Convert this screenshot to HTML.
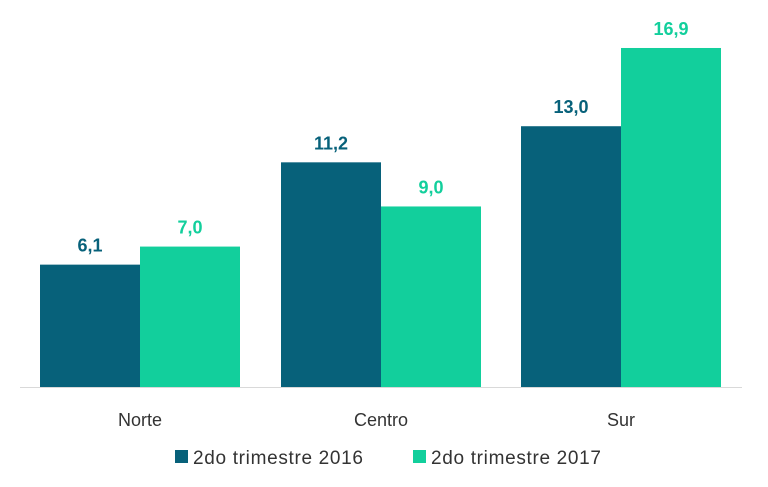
<!DOCTYPE html>
<html><head><meta charset="utf-8"><style>
body{margin:0;background:#fff;font-family:"Liberation Sans",sans-serif;}
</style></head><body>
<svg id="chart" width="768" height="482" xmlns="http://www.w3.org/2000/svg"></svg>
<script>
const categories=["Norte","Centro","Sur"];
const series2016=[6.1,11.2,13.0];
const series2017=[7.0,9.0,16.9];
const seriesNames=["2do trimestre 2016","2do trimestre 2017"];
const colors=["#07617A","#12CF9C"];
const NS="http://www.w3.org/2000/svg";
const svg=document.getElementById('chart');
const base=387, scale=20.06, groupX=[40,281,521], bw=100;
const y=v=>base-v*scale;
function mk(t,a){const e=document.createElementNS(NS,t);for(const k in a)e.setAttribute(k,a[k]);svg.appendChild(e);return e;}
const ax=mk('line',{x1:20,x2:742,y1:base+0.5,y2:base+0.5,stroke:'#d9d9d9','stroke-width':1});


[series2016,series2017].forEach((s,si)=>{
 s.forEach((v,i)=>{
  const x=groupX[i]+si*bw;
  const r=mk('rect',{x:x,y:y(v),width:bw,height:v*scale,fill:colors[si]});
  
  
  const t=mk('text',{x:x+bw/2,y:y(v)-13,'text-anchor':'middle','font-size':18,'font-weight':'bold',fill:colors[si]});
  t.textContent=v.toFixed(1).replace('.',',');
  
  
 });
});
categories.forEach((c,i)=>{
 const t=mk('text',{x:groupX[i]+bw,y:426,'text-anchor':'middle','font-size':18,fill:'#333'});
 t.textContent=c;
 
 
});
const lx=[175,413];
seriesNames.forEach((n,i)=>{
 const r=mk('rect',{x:lx[i],y:450,width:13,height:13,fill:colors[i]});
 
 
 const t=mk('text',{x:lx[i]+18,y:464,'font-size':19,fill:'#333',textLength:170,lengthAdjust:'spacing'});
 t.textContent=n;
 
 
});
</script>
</body></html>
